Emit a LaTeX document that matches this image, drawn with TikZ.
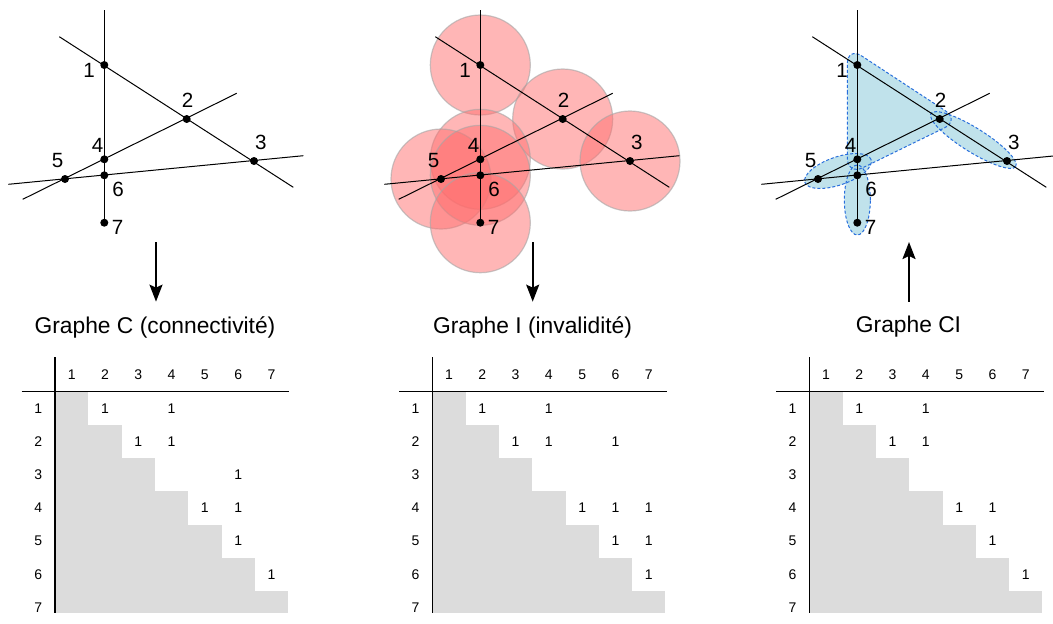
\documentclass[tikz,border=0pt]{standalone}
\usepackage{fontspec}
\setmainfont{Liberation Sans}
\usetikzlibrary{arrows.meta,calc}

\definecolor{cellgray}{RGB}{220,220,220}
\definecolor{hullblue}{RGB}{165,214,226}
\definecolor{dashblue}{RGB}{40,110,220}
\definecolor{zonered}{RGB}{255,110,110}

\tikzset{
  lab/.style={font=\fontsize{10.3}{12}\selectfont, inner sep=0pt},
  num/.style={font=\fontsize{7}{8}\selectfont, inner sep=0pt},
  titre/.style={font=\fontsize{11.4}{13}\selectfont, inner sep=0pt, outer ysep=7.3pt},
  flow/.style={line width=1pt, -{Stealth[length=8.5pt,width=6.5pt,inset=1.5pt]}},
  zone/.style={fill=zonered, fill opacity=0.5, draw=gray!70, draw opacity=0.6, line width=0.6pt},
  hullfill/.style={fill=hullblue, fill opacity=0.7},
  hullborder/.style={draw=dashblue, line width=0.5pt, dash pattern=on 1.5pt off 1pt},
  rule/.style={line width=0.7pt}
}

\newcommand{\pointsfig}{%
  \coordinate (p1) at (104.3,65);
  \coordinate (p2) at (186.7,119);
  \coordinate (p3) at (254,161);
  \coordinate (p4) at (104.3,159.3);
  \coordinate (p5) at (65,179);
  \coordinate (p6) at (104.3,175.3);
  \coordinate (p7) at (104.3,222.7);
  \coordinate (v0) at (104.3,10);
  \coordinate (a0) at (59.3,36.7);
  \coordinate (a1) at (293.3,187.3);
  \coordinate (b0) at (22.7,199.3);
  \coordinate (b1) at (236.7,93.3);
  \coordinate (c0) at (8.3,184.3);
  \coordinate (c1) at (303.3,155.7);
}

\newcommand{\traitsfig}{%
  \draw[line width=0.5pt] (v0) -- (p7);
  \draw[line width=0.5pt] (a0) -- (a1);
  \draw[line width=0.5pt] (b0) -- (b1);
  \draw[line width=0.5pt] (c0) -- (c1);
  \foreach \i in {1,...,7}
    \fill (p\i) circle[radius=2pt];
  \node[lab] (l1) at (89,70) {1};
  \node[lab] (l2) at (187.5,100) {2};
  \node[lab] (l3) at (260.8,142.5) {3};
  \node[lab] (l4) at (97.5,145) {4};
  \node[lab] (l5) at (57.5,161) {5};
  \node[lab] (l6) at (118,189) {6};
  \node[lab] (l7) at (117.5,227.5) {7};
}

\newcommand{\tableau}[3]{%
  \begin{scope}[shift={(#1,0)}, name prefix=#2]
    \foreach \i in {1,...,6}
      \fill[cellgray] (55,{391.7+33.2*(\i-1)}) rectangle ({55+33.3*\i},{391.7+33.2*\i});
    \fill[cellgray] (55,590.9) rectangle (288.1,613);
    \draw[rule] (21.7,391.7) -- (289.3,391.7);
    \draw[rule] (55,357) -- (55,613);
    \foreach \j in {1,...,7} {
      \node[num] (h\j) at ({55+33.3*(\j-0.5)},375) {\j};
      \node[num] (r\j) at (38.3,{391.7+33.2*(\j-0.5)}) {\j};
    }
    \foreach \r/\c in {#3}
      \node[num] (e\r\c) at ({55+33.3*(\c-0.5)},{391.7+33.2*(\r-0.5)}) {1};
  \end{scope}}

\begin{document}
\begin{tikzpicture}[x=0.5pt, y=-0.5pt]
  \useasboundingbox (0,0) rectangle (1053,623);

  \begin{scope}[name prefix=c-]
    \pointsfig
    \traitsfig
  \end{scope}

  \begin{scope}[shift={(376,0)}, name prefix=i-]
    \pointsfig
    \foreach \i in {1,...,7}
      \filldraw[zone] (p\i) circle[radius=25pt];
    \traitsfig
  \end{scope}

  \begin{scope}[shift={(753,0)}, name prefix=ci-]
    \pointsfig
    \coordinate (e23) at (220.3,140);
    \coordinate (e456) at (85,171);
    \coordinate (e67) at (104.3,200);
    \foreach \s in {hullfill,hullborder} {
      \path[\s, rounded corners=8.6pt] (94.3,110) -- (94.3,46.5) -- (206.9,120.3) -- (94.3,175.3) -- cycle;
      \path[\s, rotate around={-32:(e23)}] (e23) ellipse[x radius=25pt, y radius=6pt];
      \path[\s, rotate around={19:(e456)}] (e456) ellipse[x radius=17.5pt, y radius=7pt];
      \path[\s] (e67) ellipse[x radius=6.5pt, y radius=17.5pt];
    }
    \traitsfig
  \end{scope}

  \coordinate (fc) at (156,242);
  \coordinate (fi) at (532.7,242);
  \coordinate (fci) at (909,242);
  \node[titre] (tc) at (155,327) {Graphe C (connectivité)};
  \node[titre] (ti) at (532.5,327) {Graphe I (invalidité)};
  \node[titre] (tci) at (908.5,327) {Graphe CI};
  \draw[flow] (fc) -- (fc |- tc.north);
  \draw[flow] (fi) -- (fi |- ti.north);
  \draw[flow] (fci |- tci.north) -- (fci);

  \tableau{0}{tc-}{1/2,1/4,2/3,2/4,3/6,4/5,4/6,5/6,6/7}
  \tableau{377.3}{ti-}{1/2,1/4,2/3,2/4,2/6,4/5,4/6,4/7,5/6,5/7,6/7}
  \tableau{754.3}{tci-}{1/2,1/4,2/3,2/4,4/5,4/6,5/6,6/7}
\end{tikzpicture}
\end{document}
